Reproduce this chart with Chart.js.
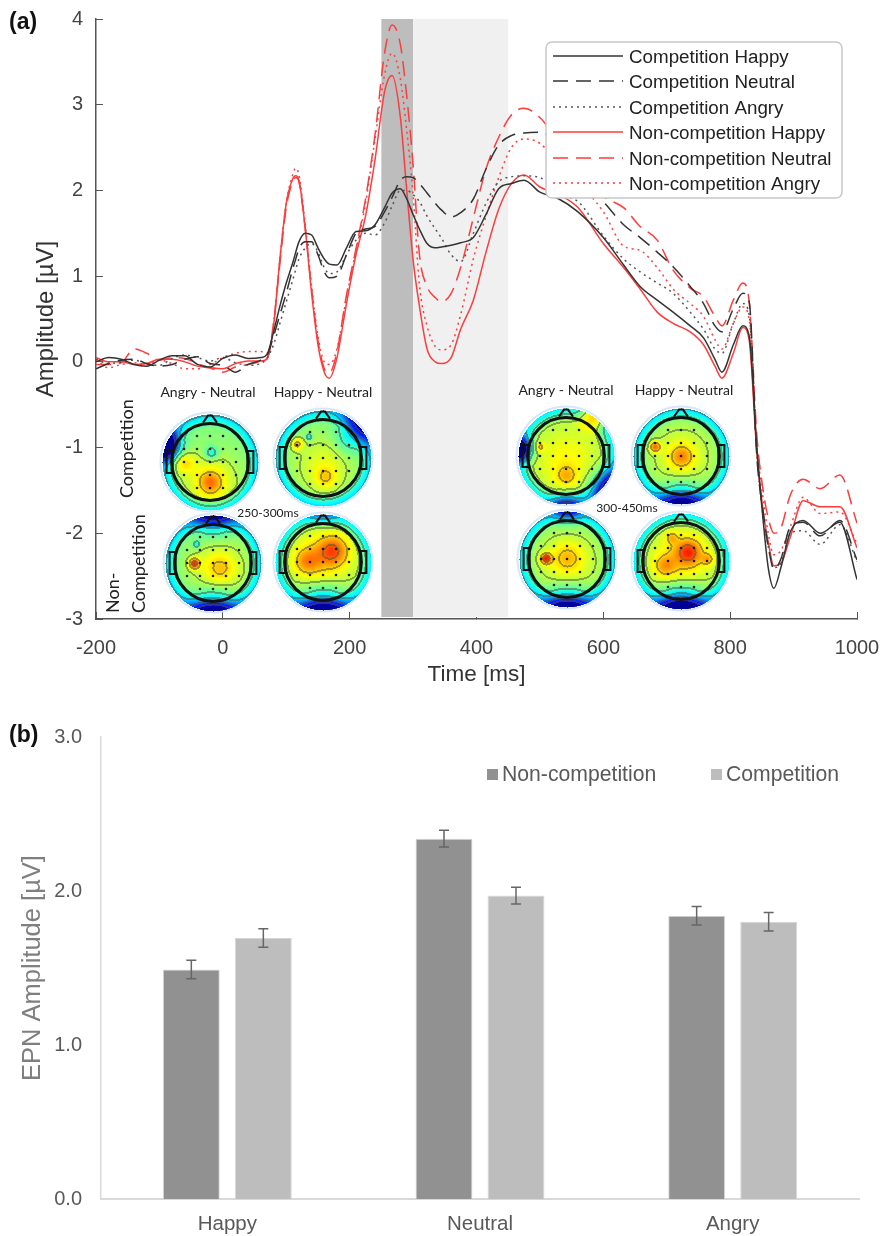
<!DOCTYPE html>
<html>
<head>
<meta charset="utf-8">
<title>EPN chart</title>
<script src="https://cdn.jsdelivr.net/npm/chart.js@4"></script>
<style>
  html, body { margin: 0; padding: 0; background: #fff; }
  canvas { position: absolute; left: 0; }
  #erpChart { top: 0; filter: blur(0.45px); }
  #barChart { top: 700px; filter: blur(0.3px); }
  .panel { position: absolute; left: 9px; font: bold 23px "Liberation Sans", Arial, sans-serif; color: #111; }
</style>
</head>
<body>
<canvas id="erpChart" width="880" height="700"></canvas>
<canvas id="barChart" width="880" height="536"></canvas>
<div class="panel" style="top:8px">(a)</div>
<div class="panel" style="top:721px">(b)</div>

<script>
// --- panel (a): ERP waveforms ---
const timeMs = [-200,-180,-160,-140,-120,-100,-80,-60,-40,-20,0,20,40,60,70,
  80,90,100,110,115,120,130,140,150,160,168,180,195,210,225,240,255,267,280,290,300,310,322,335,345,360,375,395,415,435,455,475,
  500,530,560,600,632,658,685,710,737,758,776,787,805,820,830,842,852,860,869,880,895,915,942,973,1000];

const compHappy = [0,.05,.03,-.03,-.05,.02,.07,.07,-.03,-.06,.04,.08,.04,.05,.09,
  .35,.65,.92,1.15,1.28,1.4,1.5,1.48,1.33,1.2,1.14,1.13,1.33,1.52,1.53,1.6,1.8,1.97,2.02,1.9,1.72,1.55,1.38,1.33,1.34,1.36,1.39,1.45,1.72,2.02,2.08,2.12,
  1.98,1.9,1.75,1.45,1.13,.88,.72,.58,.42,.28,.03,-.12,.2,.42,.3,-1,-1.85,-2.4,-2.64,-2.4,-1.98,-1.85,-2,-1.87,-2.54];
const compNeutral = [-.08,-.02,.02,.03,-.02,-.05,-.03,.03,.06,-.02,-.04,-.12,-.03,.02,.08,
  .3,.55,.8,1.08,1.2,1.32,1.4,1.4,1.25,1.05,.98,1,1.25,1.5,1.55,1.58,1.75,1.92,2.12,2.16,2.15,2.08,1.97,1.85,1.77,1.69,1.74,1.9,2.25,2.53,2.64,2.67,
  2.68,2.5,2.2,1.87,1.6,1.45,1.28,1.11,.88,.68,.42,.35,.62,.8,.7,-1.1,-1.75,-2.15,-2.42,-2.3,-1.92,-1.87,-2.03,-1.85,-2.31];
const compAngry = [.03,-.02,0,.02,-.02,-.04,.04,.08,.05,.01,.05,-.01,-.04,-.02,.05,
  .2,.45,.7,.95,1.08,1.2,1.33,1.38,1.28,1.1,1.03,1.05,1.25,1.42,1.5,1.48,1.62,1.82,2,2,1.95,1.87,1.7,1.55,1.44,1.25,1.17,1.5,1.85,2.1,2.16,2.17,
  2.15,1.95,1.87,1.47,1.2,1.05,.92,.8,.58,.38,.15,.1,.45,.68,.55,-1.05,-1.8,-2.15,-2.4,-2.35,-2,-1.97,-2.13,-1.9,-2.33];
const nonHappy = [.05,0,0,-.03,-.02,.03,.03,0,-.05,-.07,-.08,-.02,.01,.01,.04,
  .42,1.2,1.85,2.13,2.17,2.12,1.55,.8,.2,-.12,-.19,.05,.68,1.25,1.7,2.36,3.15,3.34,2.85,2,1.19,.65,.15,0,-.02,.05,.38,.72,1.28,1.78,2.08,2.18,
  2.04,1.95,1.8,1.38,1.1,.85,.58,.45,.35,.2,-.05,-.19,.1,.4,.25,-1.05,-1.75,-2.1,-2.38,-2.35,-2.04,-1.62,-1.69,-1.69,-2.17];
const nonNeutral = [-.03,-.03,-.01,.15,.1,.02,.05,.04,-.02,-.07,-.12,-.06,-.03,0,.04,
  .45,1.15,1.8,2.1,2.15,2.1,1.55,.85,.25,-.08,-.13,.12,.78,1.32,1.9,2.65,3.6,3.93,3.7,3.1,2.3,1.25,.88,.75,.7,.8,1.1,1.68,2.25,2.62,2.88,2.96,
  2.85,2.55,2.25,1.93,1.8,1.58,1.42,1.07,.86,.76,.53,.42,.72,.92,.7,-.85,-1.5,-1.82,-2,-1.94,-1.55,-1.37,-1.48,-1.32,-1.88];
const nonAngry = [.03,-.07,-.03,-.01,-.03,.02,-.02,-.08,-.08,-.03,.05,.1,.12,.12,.1,
  .45,1.2,1.85,2.18,2.26,2.18,1.6,.88,.3,0,-.03,.15,.75,1.3,1.85,2.6,3.35,3.6,3.3,2.7,1.95,.9,.42,.18,.14,.2,.55,1.2,1.7,2.15,2.5,2.6,
  2.55,2.3,2.1,1.75,1.35,1.3,1.1,.85,.68,.53,.26,.15,.45,.64,.5,-.95,-1.6,-2,-2.25,-2.2,-1.92,-1.58,-1.77,-1.75,-2.12];

const erpNames = ['Competition Happy','Competition Neutral','Competition Angry','Non-competition Happy','Non-competition Neutral','Non-competition Angry'];
const erpValues = [compHappy, compNeutral, compAngry, nonHappy, nonNeutral, nonAngry];
const timeTicks = [-200,0,200,400,600,800,1000];
const ampTicks = [-3,-2,-1,0,1,2,3,4];
const windowEarly = [250,300];
const windowLate = [300,450];

// --- panel (b): EPN means and standard errors ---
const emotions = ['Happy','Neutral','Angry'];
const epnNon = [1.49,2.34,1.84];
const epnComp = [1.695,1.97,1.80];
const errNon = [.06,.055,.06];
const errComp = [.06,.055,.06];
const epnTicks = [0,1,2,3];

const BLACK = '#333333', RED = '#ff3b3b';
const SANS = '"Liberation Sans", Arial, sans-serif';
const LABEL = 'Lato, "Open Sans", sans-serif';
const styles = [
  {color: BLACK, dash: []},
  {color: BLACK, dash: [15,8]},
  {color: '#555555', dash: [2,4]},
  {color: RED, dash: []},
  {color: RED, dash: [15,8]},
  {color: RED, dash: [2,4]}
];

// scalp maps: centre in axis units, then blobs [dx, dy, sigma, amp] on the head radius
const scalpMaps = [
  {t:-20, a:-1.17, base:.5,  blobs:[[0,.4,.42,.13],[0,.42,.16,.14],[-.55,0,.16,.13],[-.95,-.35,.2,-.6],[.02,-.2,.1,-.14]]},
  {t:158, a:-1.12, base:.5,  blobs:[[0,.15,.45,.1],[-.55,-.3,.09,.16],[.05,.4,.16,.1],[.85,-.75,.3,-.3],[-.3,-.45,.05,-.15],[.5,-.35,.2,-.06]]},
  {t:-15, a:-2.35, base:.5,  blobs:[[.1,.1,.42,.12],[-.4,0,.08,.28],[.15,.1,.2,.07],[0,1.15,.32,-.5],[0,-1.15,.3,-.42],[-.35,-.4,.05,-.15]]},
  {t:158, a:-2.33, base:.53, blobs:[[0,-.1,.45,.12],[-.35,-.02,.2,.14],[.2,-.25,.22,.18],[0,1.15,.34,-.55],[0,-1.1,.2,-.18]]},
  {t:541, a:-1.1,  base:.53, blobs:[[0,.1,.5,.1],[.6,-.88,.2,.32],[-.98,-.15,.16,-.6],[-.55,-.2,.07,.12],[0,.42,.15,.1],[.95,.7,.28,-.4],[0,1.15,.22,-.4]]},
  {t:723, a:-1.1,  base:.5,  blobs:[[0,0,.45,.12],[-.55,-.2,.08,.22],[0,0,.16,.13],[0,1.12,.3,-.5]]},
  {t:543, a:-2.3,  base:.5,  blobs:[[0,.05,.45,.13],[-.45,-.02,.08,.28],[0,-.05,.2,.07],[0,1.15,.32,-.5],[0,-1.1,.2,-.28]]},
  {t:723, a:-2.32, base:.52, blobs:[[0,-.05,.48,.14],[-.35,.1,.16,.12],[.15,-.2,.18,.2],[.55,-.05,.09,.12],[-.2,-.5,.09,.1],[0,1.12,.34,-.6]]}
];

const insetTexts = [
  {text:'Angry - Neutral', x:208, y:392, size:14},
  {text:'Happy - Neutral', x:323, y:392, size:14},
  {text:'Angry - Neutral', x:566, y:390, size:14},
  {text:'Happy - Neutral', x:684, y:390, size:14},
  {text:'250-300ms', x:268, y:513, size:12},
  {text:'300-450ms', x:627, y:508, size:12}
];
const insetRotated = [
  {text:'Competition', x:127, y:498, size:18},
  {text:'Competition', x:139, y:613, size:18},
  {text:'Non-', x:113, y:613, size:18}
];

function jet(v) {
  const c = x => Math.max(0, Math.min(1, x));
  return [c(1.5 - Math.abs(4*v - 3)), c(1.5 - Math.abs(4*v - 2)), c(1.5 - Math.abs(4*v - 1))].map(x => x * 255);
}

function renderScalp(map, R) {
  const size = 2*R + 2;
  const off = document.createElement('canvas');
  off.width = off.height = size;
  const g = off.getContext('2d');
  const img = g.createImageData(size, size);
  const val = (u, w) => {
    const d = Math.hypot(u, w);
    let v = map.base - .18 * Math.max(0, Math.min(1, (d - .72) / .28));
    map.blobs.forEach(b => {
      const dx = u - b[0], dy = w - b[1];
      v += b[3] * Math.exp(-(dx*dx + dy*dy) / (2*b[2]*b[2]));
    });
    return Math.max(0.02, Math.min(.98, v));
  };
  const step = 1 / R;
  for (let py = 0; py < size; py++) {
    for (let px = 0; px < size; px++) {
      const u = (px - R) * step, w = (py - R) * step;
      if (Math.hypot(u, w) > 1) continue;
      const v = val(u, w);
      const col = jet(v);
      const band = Math.floor(v * 9);
      const edge = [[1,0],[0,1],[-1,0],[0,-1]].some(n => band !== Math.floor(val(u + n[0]*step, w + n[1]*step) * 9));
      const mix = edge ? .55 : 0;
      const i = (py*size + px) * 4;
      img.data[i]   = col[0]*(1-mix) + 80*mix;
      img.data[i+1] = col[1]*(1-mix) + 90*mix;
      img.data[i+2] = col[2]*(1-mix) + 70*mix;
      img.data[i+3] = 255;
    }
  }
  g.putImageData(img, 0, 0);
  return off;
}

function drawScalp(ctx, map, cx, cy, R) {
  ctx.drawImage(renderScalp(map, R), cx - R, cy - R);
  ctx.strokeStyle = 'rgba(205,225,250,.8)';
  ctx.lineWidth = 2;
  ctx.beginPath();
  ctx.arc(cx, cy, R + 1.5, 0, Math.PI*2);
  ctx.stroke();
  const head = R * .8;
  ctx.strokeStyle = '#111';
  ctx.lineWidth = 3;
  ctx.beginPath();
  ctx.arc(cx, cy, head, 0, Math.PI*2);
  ctx.stroke();
  ctx.lineWidth = 2;
  ctx.beginPath();
  ctx.moveTo(cx - 7, cy - head - 1);
  ctx.lineTo(cx - 2, cy - head - 8);
  ctx.lineTo(cx + 2, cy - head - 8);
  ctx.lineTo(cx + 7, cy - head - 1);
  ctx.stroke();
  [-1, 1].forEach(s => {
    ctx.strokeRect(cx + s*(head + 2) - 3, cy - 11, 6, 22);
  });
  // electrodes
  ctx.fillStyle = '#1a1a1a';
  const step = 13;
  for (let dy = -3; dy <= 3; dy++) {
    for (let dx = -3; dx <= 3; dx++) {
      if (Math.hypot(dx*step, dy*step) > head - 3) continue;
      ctx.beginPath();
      ctx.arc(cx + dx*step, cy + dy*step, 1.3, 0, Math.PI*2);
      ctx.fill();
    }
  }
}

// grey analysis windows and the scalp map insets sit under the waveforms
const erpBackdrop = {
  id: 'erpBackdrop',
  beforeDatasetsDraw(chart) {
    const {ctx, scales: {x, y}, chartArea} = chart;
    ctx.save();
    ctx.fillStyle = '#bdbdbd';
    ctx.fillRect(x.getPixelForValue(windowEarly[0]), chartArea.top, x.getPixelForValue(windowEarly[1]) - x.getPixelForValue(windowEarly[0]), chartArea.height - 2);
    ctx.fillStyle = '#f0f0f0';
    ctx.fillRect(x.getPixelForValue(windowLate[0]), chartArea.top, x.getPixelForValue(windowLate[1]) - x.getPixelForValue(windowLate[0]), chartArea.height - 2);
    scalpMaps.forEach(m => drawScalp(ctx, m, Math.round(x.getPixelForValue(m.t)), Math.round(y.getPixelForValue(m.a)), 48));
    ctx.fillStyle = '#222';
    ctx.textAlign = 'center';
    ctx.textBaseline = 'middle';
    insetTexts.forEach(t => {
      ctx.font = t.size + 'px ' + LABEL;
      ctx.fillText(t.text, t.x, t.y);
    });
    ctx.textAlign = 'left';
    insetRotated.forEach(t => {
      ctx.save();
      ctx.translate(t.x, t.y);
      ctx.rotate(-Math.PI/2);
      ctx.font = t.size + 'px ' + LABEL;
      ctx.fillText(t.text, 0, 0);
      ctx.restore();
    });
    ctx.restore();
  }
};

const erpLegend = {
  id: 'erpLegend',
  afterDatasetsDraw(chart) {
    const {ctx} = chart;
    const rowY = [56, 81, 107, 132, 158, 183];
    ctx.save();
    ctx.beginPath();
    ctx.roundRect(546, 42, 296, 156, 6);
    ctx.fillStyle = '#fff';
    ctx.fill();
    ctx.strokeStyle = '#c8c8c8';
    ctx.lineWidth = 1.5;
    ctx.stroke();
    chart.data.datasets.forEach((ds, i) => {
      ctx.strokeStyle = ds.borderColor;
      ctx.lineWidth = 1.6;
      ctx.setLineDash(ds.borderDash);
      ctx.beginPath();
      ctx.moveTo(553, rowY[i]);
      ctx.lineTo(623, rowY[i]);
      ctx.stroke();
      ctx.setLineDash([]);
      ctx.fillStyle = '#222';
      ctx.font = '18.8px ' + SANS;
      ctx.textBaseline = 'middle';
      ctx.fillText(ds.label, 629, rowY[i] + 2);
    });
    ctx.restore();
  }
};

// stop tick label overhang from pushing the plot area in
function fixSize(scale, w, h) {
  if (w) scale.width = w;
  if (h) scale.height = h;
  scale.paddingLeft = scale.paddingRight = scale.paddingTop = scale.paddingBottom = 0;
}

new Chart(document.getElementById('erpChart'), {
  type: 'line',
  data: {
    datasets: erpNames.map((name, i) => ({
      label: name,
      data: timeMs.map((t, k) => ({x: t, y: erpValues[i][k]})),
      borderColor: styles[i].color,
      borderDash: styles[i].dash,
      borderWidth: 1.5,
      pointRadius: 0,
      cubicInterpolationMode: 'monotone'
    }))
  },
  plugins: [erpBackdrop, erpLegend],
  options: {
    responsive: false,
    animation: false,
    layout: { padding: { top: 19, right: 23 } },
    plugins: { legend: { display: false }, tooltip: { enabled: false } },
    scales: {
      x: {
        type: 'linear', min: -200, max: 1000,
        afterBuildTicks: s => { s.ticks = timeTicks.map(v => ({value: v})); },
        afterFit: s => fixSize(s, 0, 81),
        grid: { drawOnChartArea: false, tickLength: -7, tickColor: '#555' },
        border: { color: '#555', width: 1.5 },
        ticks: { color: '#444', font: { family: SANS, size: 20 }, padding: 24, maxRotation: 0, callback: v => String(v) },
        title: { display: true, text: 'Time [ms]', color: '#333', font: { family: SANS, size: 22.5 }, padding: { bottom: 12 } }
      },
      y: {
        min: -3, max: 4,
        afterBuildTicks: s => { s.ticks = ampTicks.map(v => ({value: v})); },
        afterFit: s => fixSize(s, 96, 0),
        grid: { drawOnChartArea: false, tickLength: -7, tickColor: '#555' },
        border: { color: '#555', width: 1.5 },
        ticks: { color: '#444', font: { family: SANS, size: 20 }, padding: 20, callback: v => String(v) },
        title: { display: true, text: 'Amplitude [µV]', color: '#333', font: { family: SANS, size: 24 }, padding: { top: 32 } }
      }
    }
  }
});

// --- panel (b) ---
const errorBars = {
  id: 'errorBars',
  afterDatasetsDraw(chart) {
    const {ctx, scales: {y}} = chart;
    ctx.save();
    ctx.strokeStyle = '#666';
    ctx.lineWidth = 1.5;
    chart.data.datasets.forEach((ds, d) => {
      chart.getDatasetMeta(d).data.forEach((bar, i) => {
        const hi = y.getPixelForValue(ds.data[i] + ds.errors[i]);
        const lo = y.getPixelForValue(ds.data[i] - ds.errors[i]);
        ctx.beginPath();
        ctx.moveTo(bar.x, hi); ctx.lineTo(bar.x, lo);
        ctx.moveTo(bar.x - 5, hi); ctx.lineTo(bar.x + 5, hi);
        ctx.moveTo(bar.x - 5, lo); ctx.lineTo(bar.x + 5, lo);
        ctx.stroke();
      });
    });
    ctx.restore();
  }
};

const barLegend = {
  id: 'barLegend',
  afterDraw(chart) {
    const {ctx} = chart;
    const startX = [487, 711];
    ctx.save();
    ctx.font = '21.2px ' + SANS;
    ctx.textBaseline = 'middle';
    chart.data.datasets.forEach((ds, i) => {
      ctx.fillStyle = ds.backgroundColor;
      ctx.fillRect(startX[i], 69, 11, 11);
      ctx.fillStyle = '#595959';
      ctx.fillText(ds.label, startX[i] + 15, 75);
    });
    ctx.restore();
  }
};

new Chart(document.getElementById('barChart'), {
  type: 'bar',
  data: {
    labels: emotions,
    datasets: [
      { label: 'Non-competition', data: epnNon, errors: errNon, backgroundColor: '#919191', borderColor: '#d6d6d6', borderWidth: 1 },
      { label: 'Competition', data: epnComp, errors: errComp, backgroundColor: '#bdbdbd', borderColor: '#d6d6d6', borderWidth: 1 }
    ]
  },
  plugins: [errorBars, barLegend],
  options: {
    responsive: false,
    animation: false,
    layout: { padding: { top: 37, right: 21 } },
    datasets: { bar: { categoryPercentage: .57, barPercentage: .79 } },
    plugins: { legend: { display: false }, tooltip: { enabled: false } },
    scales: {
      x: {
        afterFit: s => fixSize(s, 0, 37),
        grid: { display: false },
        border: { color: '#d9d9d9', width: 2 },
        ticks: { color: '#595959', font: { family: SANS, size: 20.5 }, padding: 5 }
      },
      y: {
        min: 0, max: 3,
        afterBuildTicks: s => { s.ticks = epnTicks.map(v => ({value: v})); },
        afterFit: s => fixSize(s, 101, 0),
        grid: { display: false },
        border: { color: '#d9d9d9', width: 1.5 },
        ticks: { color: '#595959', font: { family: SANS, size: 20 }, padding: 11, callback: v => v.toFixed(1) },
        title: { display: true, text: 'EPN Amplitude [µV]', color: '#7f7f7f', font: { family: SANS, size: 25.5 }, padding: { top: 18 } }
      }
    }
  }
});
</script>
</body>
</html>
